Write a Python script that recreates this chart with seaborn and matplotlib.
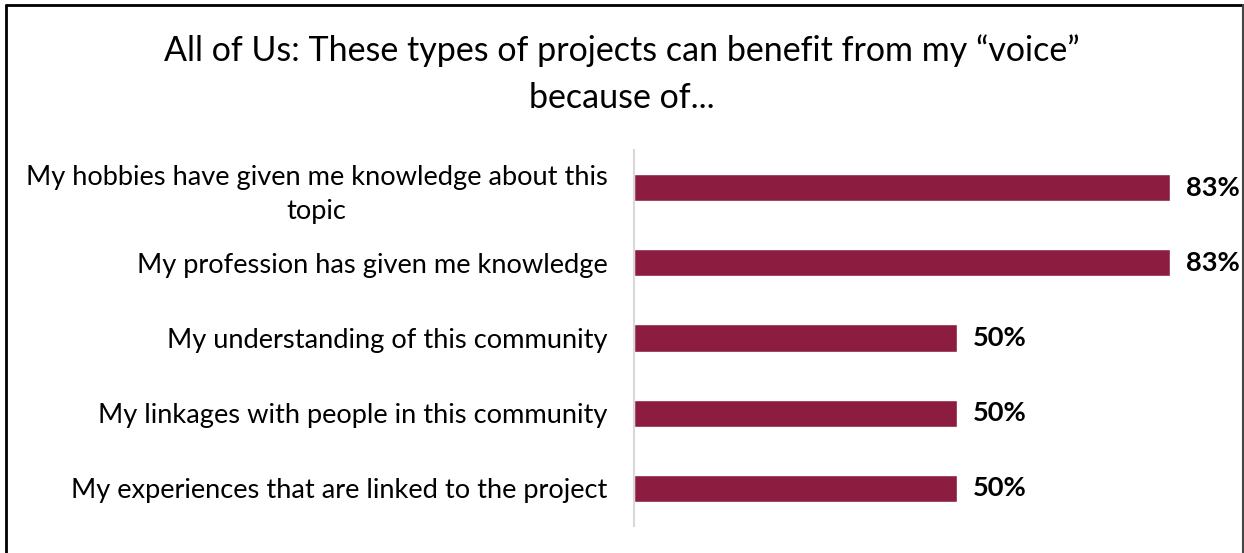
import matplotlib
matplotlib.use("Agg")
import matplotlib.pyplot as plt
import seaborn as sns
import pandas as pd
from matplotlib.lines import Line2D

categories = [
    "My hobbies have given me knowledge about this\ntopic",
    "My profession has given me knowledge",
    "My understanding of this community",
    "My linkages with people in this community",
    "My experiences that are linked to the project",
]
values = [83, 83, 50, 50, 50]
value_labels = ["83%", "83%", "50%", "50%", "50%"]
title = "All of Us: These types of projects can benefit from my \u201cvoice\u201d\nbecause of..."

bar_color = "#8C1C40"

sns.set_theme(style="white")
plt.rcParams["font.family"] = ["Lato", "DejaVu Sans"]

df = pd.DataFrame({"category": categories, "value": values})

fig = plt.figure(figsize=(12.44, 5.53), dpi=100)
ax = fig.add_axes([634 / 1244, 27 / 553, 581 / 1244, 376 / 553])

sns.barplot(data=df, x="value", y="category", color=bar_color, width=0.36,
            saturation=1, ax=ax, orient="h")

ax.set_xlim(0, 90)
ax.set_xlabel("")
ax.set_ylabel("")
ax.set_xticks([])
for side in ("top", "right", "bottom"):
    ax.spines[side].set_visible(False)
ax.spines["left"].set_color("#D9D9D9")
ax.spines["left"].set_linewidth(1.5)
ax.tick_params(axis="y", length=0, pad=19, labelsize=19.6, labelcolor="#000000")
for lbl in ax.get_yticklabels():
    lbl.set_multialignment("center")
    lbl.set_linespacing(1.45)

for i, (v, t) in enumerate(zip(values, value_labels)):
    ax.annotate(t, xy=(v, i), xytext=(11.5, 0), textcoords="offset points",
                ha="left", va="center", fontsize=19.6, fontweight="bold",
                color="#000000", annotation_clip=False)

fig.text(0.5, 1 - 74 / 553, title, ha="center", va="center", fontsize=24.5,
         color="#000000", linespacing=1.6)

# frame around the chart area
fig.add_artist(Line2D([6 / 1244, 6 / 1244], [0, 1 - 5 / 553], transform=fig.transFigure,
                      color="#000000", lw=2))
fig.add_artist(Line2D([6 / 1244, 1243 / 1244], [1 - 5 / 553, 1 - 5 / 553],
                      transform=fig.transFigure, color="#000000", lw=2))
fig.add_artist(Line2D([1243 / 1244, 1243 / 1244], [0, 1 - 5 / 553],
                      transform=fig.transFigure, color="#444444", lw=1.5))

fig.savefig("out.png", dpi=100, facecolor="white")
